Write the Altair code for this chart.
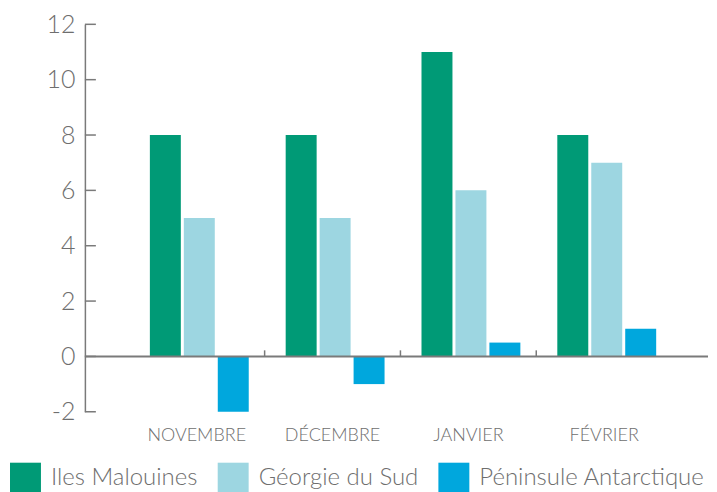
import altair as alt
import pandas as pd

months = ["NOVEMBRE", "DÉCEMBRE", "JANVIER", "FÉVRIER"]
series = ["Iles Malouines", "Géorgie du Sud", "Péninsule Antarctique"]
malouines = [8, 8, 11, 8]
georgie = [5, 5, 6, 7]
peninsule = [-2, -1, 0.5, 1]
colors = ["#009A76", "#9DD6E1", "#00A7DD"]
y_ticks = [-2, 0, 2, 4, 6, 8, 10, 12]

rows = []
for i, m in enumerate(months):
    for s, vals in zip(series, [malouines, georgie, peninsule]):
        rows.append({"mois": m, "serie": s, "valeur": vals[i]})
df = pd.DataFrame(rows)

W, H = 624, 388
FONT = "Lato"
GRAY = "#6e6e6e"
AXIS_GRAY = "#7a7a7a"

x_scale = alt.Scale(domain=months, paddingInner=0, paddingOuter=0.294, align=0.55)
y_scale = alt.Scale(domain=[-2, 12], nice=False, zero=False)

x_axis = alt.Axis(title=None, domain=False, ticks=False, labelAngle=0,
                  labelFontSize=18, labelFont=FONT, labelColor=GRAY,
                  labelFontWeight=300, labelPadding=15)
y_axis = alt.Axis(title=None, values=y_ticks, grid=False, ticks=False,
                  domainColor=AXIS_GRAY, domainWidth=1.5,
                  labelFontSize=25, labelFont=FONT, labelColor=GRAY,
                  labelFontWeight=300, labelPadding=10,
                  labelExpr="datum.value + ''")

bars = alt.Chart(df).mark_bar().encode(
    x=alt.X("mois:N", scale=x_scale, sort=months, axis=x_axis),
    xOffset=alt.XOffset("serie:N", sort=series,
                        scale=alt.Scale(domain=series, paddingInner=0.088,
                                        paddingOuter=0.544, align=0.57)),
    y=alt.Y("valeur:Q", scale=y_scale, axis=y_axis),
    color=alt.Color("serie:N", sort=series,
                    scale=alt.Scale(domain=series, range=colors),
                    legend=alt.Legend(title=None, orient="none", legendX=-75, legendY=439,
                                      direction="horizontal", symbolType="square",
                                      symbolSize=961, symbolStrokeWidth=0,
                                      labelFontSize=24, labelFont=FONT, labelColor=GRAY,
                                      labelFontWeight=300,
                                      labelOffset=10, columnPadding=20, padding=0,
                                      labelLimit=0)),
)

zero = alt.Chart(pd.DataFrame({"v": [0]})).mark_rule(color=AXIS_GRAY, strokeWidth=2).encode(
    y=alt.Y("v:Q", scale=y_scale, axis=y_axis),
    x=alt.value(0), x2=alt.value(W),
)

ytick = alt.Chart(pd.DataFrame({"t": y_ticks})).mark_rule(color=AXIS_GRAY, strokeWidth=1.5).encode(
    y=alt.Y("t:Q", scale=y_scale, axis=y_axis),
    x=alt.value(0), x2=alt.value(11),
)

sep = alt.Chart(pd.DataFrame({"mois": months[:3]})).mark_rule(color=AXIS_GRAY, strokeWidth=1.5).encode(
    x=alt.X("mois:N", scale=x_scale, sort=months, bandPosition=1, axis=x_axis),
    y=alt.datum(0), y2=alt.datum(0.22),
)

chart = alt.layer(bars, zero, ytick, sep).properties(
    width=W, height=H,
    padding={"left": 2, "top": 4, "right": 0, "bottom": 0},
    background="white",
).configure_view(stroke=None)

chart.save("out.html", embed_options={"renderer": "svg", "actions": False})
